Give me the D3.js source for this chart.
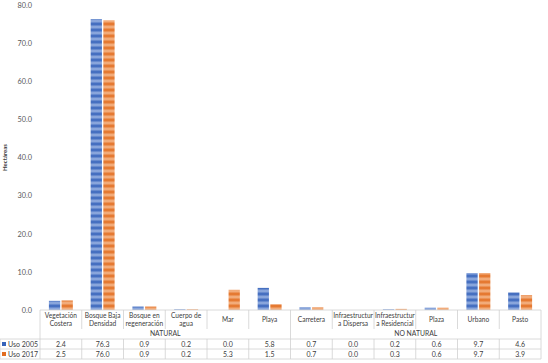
<!DOCTYPE html>
<html>
<head>
<meta charset="utf-8">
<script src="https://cdn.jsdelivr.net/npm/d3@7"></script>
<style>
  body { margin: 0; background: #fff; }
  svg text { font-family: Lato, "Liberation Sans", sans-serif; fill: #404040; }
</style>
</head>
<body>
<div id="chart"></div>
<script>
const categories = [
    ["Vegetación", "Costera"], ["Bosque Baja", "Densidad"], ["Bosque en", "regeneración"],
    ["Cuerpo de", "agua"], ["Mar"], ["Playa"], ["Carretera"], ["Infraestructur", "a Dispersa"],
    ["Infraestructur", "a Residencial"], ["Plaza"], ["Urbano"], ["Pasto"]
];
const groups = [{ name: "NATURAL", from: 0, to: 6 }, { name: "NO NATURAL", from: 6, to: 12 }];
const seriesNames = ["Uso 2005", "Uso 2017"];
const uso2005 = [2.4, 76.3, 0.9, 0.2, 0.0, 5.8, 0.7, 0.0, 0.2, 0.6, 9.7, 4.6];
const uso2017 = [2.5, 76.0, 0.9, 0.2, 5.3, 1.5, 0.7, 0.0, 0.3, 0.6, 9.7, 3.9];
const yTicks = [0, 10, 20, 30, 40, 50, 60, 70, 80];

const W = 548, H = 363;
const plotLeft = 40, plotRight = 541, plotTop = 5, plotBottom = 310;
const colors = { dark: ["#3562BA", "#E26D20"], light: ["#9AB3E2", "#F5B88C"] };

const svg = d3.select("#chart").append("svg")
    .attr("width", W).attr("height", H);

// striped fill like the Excel gradient bars
const defs = svg.append("defs");
seriesNames.forEach((s, i) => {
    const grad = defs.append("linearGradient")
        .attr("id", "g" + i).attr("x1", 0).attr("x2", 0).attr("y1", 0).attr("y2", 1);
    grad.append("stop").attr("offset", "0%").attr("stop-color", colors.dark[i]);
    grad.append("stop").attr("offset", "50%").attr("stop-color", colors.light[i]);
    grad.append("stop").attr("offset", "100%").attr("stop-color", colors.dark[i]);
    const pat = defs.append("pattern")
        .attr("id", "p" + i).attr("patternUnits", "userSpaceOnUse")
        .attr("width", 20).attr("height", 6);
    pat.append("rect").attr("width", 20).attr("height", 6).attr("fill", `url(#g${i})`);
});

const x0 = d3.scaleBand().domain(d3.range(categories.length)).range([plotLeft, plotRight]);
const x1 = d3.scaleBand().domain(seriesNames)
    .range([8.9, x0.bandwidth() - 8.9]).paddingInner(0.11);
const y = d3.scaleLinear().domain([0, 80]).range([plotBottom, plotTop]);

// y axis labels
const yAxis = svg.append("g")
    .attr("transform", `translate(${plotLeft},0)`)
    .call(d3.axisLeft(y).tickValues(yTicks).tickFormat(d3.format(".1f")).tickSize(0).tickPadding(8));
yAxis.select(".domain").remove();
yAxis.selectAll("text").style("font-size", "7.3px").style("fill", "#595959");

svg.append("text")
    .attr("transform", `translate(7,${(plotTop + plotBottom) / 2}) rotate(-90)`)
    .attr("text-anchor", "middle")
    .style("font-size", "6px").style("font-weight", "bold")
    .text("Hectáreas");

// bars
const values = [uso2005, uso2017];
seriesNames.forEach((s, i) => {
    svg.append("g").selectAll("rect")
        .data(values[i])
        .join("rect")
        .attr("x", (d, j) => x0(j) + x1(s))
        .attr("y", d => y(d))
        .attr("width", x1.bandwidth())
        .attr("height", d => y(0) - y(d))
        .attr("fill", `url(#p${i})`);
});

// data table
const lineColor = "#D0D0D0";
const rowCat = plotBottom, rowGrp = 329, row1 = 339, row2 = 349, rowEnd = 359;
const table = svg.append("g").attr("stroke", lineColor).attr("stroke-width", 0.8);

table.append("line").attr("x1", plotLeft).attr("x2", plotRight).attr("y1", rowCat).attr("y2", rowCat);
[row1, row2, rowEnd].forEach(yy =>
    table.append("line").attr("x1", 0).attr("x2", plotRight).attr("y1", yy).attr("y2", yy));
d3.range(categories.length + 1).forEach(j => {
    const xx = j < categories.length ? x0(j) : plotRight;
    const isGroupEdge = groups.some(g => g.from === j || g.to === j);
    table.append("line").attr("x1", xx).attr("x2", xx)
        .attr("y1", rowCat).attr("y2", isGroupEdge ? rowEnd : rowGrp);
    if (!isGroupEdge) {
        table.append("line").attr("x1", xx).attr("x2", xx)
            .attr("y1", row1).attr("y2", rowEnd);
    }
});
table.append("line").attr("x1", 0).attr("x2", 0).attr("y1", row1).attr("y2", rowEnd);

// category labels
const catText = svg.append("g").style("font-size", "6.6px").attr("text-anchor", "middle");
categories.forEach((lines, j) => {
    const cx = x0(j) + x0.bandwidth() / 2;
    const y0 = lines.length === 1 ? 322 : 318;
    lines.forEach((t, k) => {
        catText.append("text").attr("x", cx).attr("y", y0 + k * 8.3).text(t);
    });
});

// group labels
groups.forEach(g => {
    svg.append("text")
        .attr("x", (x0(g.from) + (g.to < categories.length ? x0(g.to) : plotRight)) / 2)
        .attr("y", 336)
        .attr("text-anchor", "middle")
        .style("font-size", "6.8px")
        .text(g.name);
});

// value rows with legend keys
[row1, row2].forEach((ry, i) => {
    svg.append("rect").attr("x", 2).attr("y", ry + 3).attr("width", 4).attr("height", 4)
        .attr("fill", colors.dark[i]);
    svg.append("text").attr("x", 8).attr("y", ry + 7.5)
        .style("font-size", "7px").text(seriesNames[i]);
    values[i].forEach((v, j) => {
        svg.append("text")
            .attr("x", x0(j) + x0.bandwidth() / 2).attr("y", ry + 7.5)
            .attr("text-anchor", "middle")
            .style("font-size", "7px")
            .text(d3.format(".1f")(v));
    });
});
</script>
</body>
</html>
